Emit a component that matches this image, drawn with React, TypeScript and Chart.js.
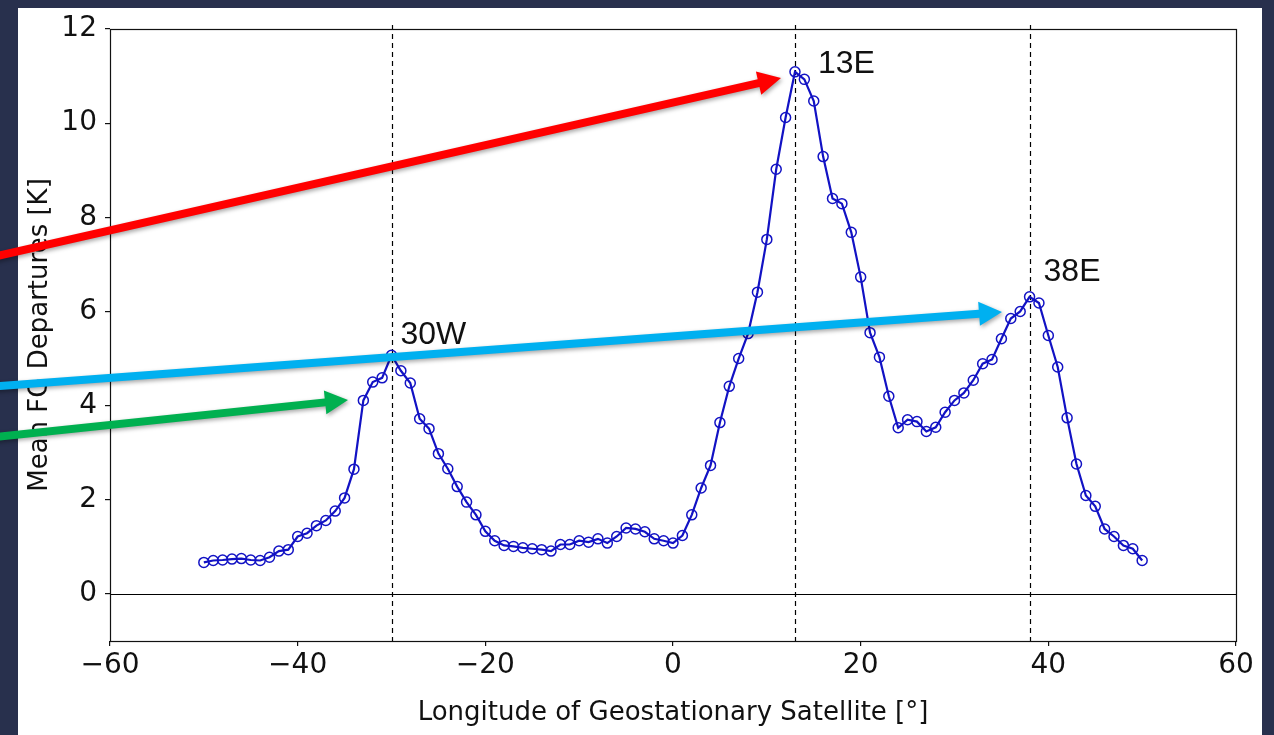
import React, { useEffect, useRef } from 'react';
import { Chart, registerables } from 'chart.js';

Chart.register(...registerables);

// ---- data ----
const LONGITUDES = [
  -50, -49, -48, -47, -46, -45, -44, -43, -42, -41,
  -40, -39, -38, -37, -36, -35, -34, -33, -32, -31,
  -30, -29, -28, -27, -26, -25, -24, -23, -22, -21,
  -20, -19, -18, -17, -16, -15, -14, -13, -12, -11,
  -10, -9, -8, -7, -6, -5, -4, -3, -2, -1,
  0, 1, 2, 3, 4, 5, 6, 7, 8, 9,
  10, 11, 12, 13, 14, 15, 16, 17, 18, 19,
  20, 21, 22, 23, 24, 25, 26, 27, 28, 29,
  30, 31, 32, 33, 34, 35, 36, 37, 38, 39,
  40, 41, 42, 43, 44, 45, 46, 47, 48, 49,
  50,
];

const FG_DEPARTURES = [
  0.67, 0.71, 0.72, 0.74, 0.75, 0.72, 0.71, 0.78, 0.91, 0.94,
  1.22, 1.29, 1.45, 1.56, 1.76, 2.04, 2.65, 4.11, 4.50, 4.59,
  5.07, 4.74, 4.48, 3.72, 3.51, 2.98, 2.66, 2.28, 1.95, 1.68,
  1.33, 1.13, 1.03, 1.01, 0.98, 0.96, 0.94, 0.91, 1.05, 1.05,
  1.13, 1.10, 1.17, 1.08, 1.22, 1.40, 1.38, 1.32, 1.17, 1.13,
  1.08, 1.24, 1.68, 2.25, 2.73, 3.64, 4.41, 5.00, 5.53, 6.41,
  7.53, 9.02, 10.12, 11.09, 10.93, 10.47, 9.29, 8.40, 8.29, 7.68,
  6.73, 5.55, 5.03, 4.20, 3.53, 3.70, 3.66, 3.45, 3.54, 3.86,
  4.11, 4.27, 4.54, 4.89, 4.98, 5.42, 5.85, 6.00, 6.31, 6.18,
  5.49, 4.82, 3.74, 2.76, 2.09, 1.86, 1.38, 1.22, 1.03, 0.96,
  0.71,
];

const X_TICKS = [-60, -40, -20, 0, 20, 40, 60];
const Y_TICKS = [0, 2, 4, 6, 8, 10, 12];

const PEAK_LONGITUDES = [-30, 13, 38];
const PEAK_LABELS = ['30W', '13E', '38E'];
const PEAK_VALUES = [5.07, 11.09, 6.31];

const X_TITLE = 'Longitude of Geostationary Satellite [°]';
const Y_TITLE = 'Mean FG Departures [K]';

// ---- styles ----
const NAVY = '#28304d';
const LINE_COLOR = '#1212c4';
// pixel offsets of peak labels from their peak points
const LABEL_OFFSETS = [
  { dx: 9, dy: -20 },
  { dx: 23, dy: -8 },
  { dx: 14, dy: -25 },
];
// overlay arrows (pixel coordinates on the figure)
const ARROWS = [
  { color: '#ff0000', x0: -20, y0: 260, x1: 781, y1: 78 },
  { color: '#00b0f0', x0: -20, y0: 387.5, x1: 1002, y1: 312 },
  { color: '#00b050', x0: -20, y0: 438.5, x1: 348, y1: 400 },
];

const fmt = (v: number) => (v < 0 ? '\u2212' + Math.abs(v) : String(v));

export default function App() {
  const ref = useRef<HTMLCanvasElement>(null);

  useEffect(() => {
    const canvas = ref.current;
    if (!canvas) return;

    const overlay = {
      id: 'overlay',
      beforeDraw(chart: any) {
        const ctx = chart.ctx;
        ctx.save();
        ctx.fillStyle = NAVY;
        ctx.fillRect(0, 0, chart.width, chart.height);
        ctx.fillStyle = '#ffffff';
        ctx.fillRect(18, 8, 1262 - 18, chart.height - 8);
        ctx.restore();
      },
      beforeDatasetsDraw(chart: any) {
        const ctx = chart.ctx;
        const { left, right, top, bottom } = chart.chartArea;
        const xs = chart.scales.x;
        const ys = chart.scales.y;
        ctx.save();
        // zero line
        const y0 = Math.round(ys.getPixelForValue(0)) + 0.5;
        ctx.strokeStyle = '#000';
        ctx.lineWidth = 1.2;
        ctx.beginPath();
        ctx.moveTo(left, y0);
        ctx.lineTo(right, y0);
        ctx.stroke();
        // dashed verticals
        ctx.setLineDash([5, 4]);
        ctx.lineWidth = 1.2;
        PEAK_LONGITUDES.forEach((lon) => {
          const x = Math.round(xs.getPixelForValue(lon)) + 0.5;
          ctx.beginPath();
          ctx.moveTo(x, top - 4);
          ctx.lineTo(x, bottom + 4);
          ctx.stroke();
        });
        ctx.restore();
      },
      afterDatasetsDraw(chart: any) {
        const ctx = chart.ctx;
        const { left, right, top, bottom } = chart.chartArea;
        ctx.save();
        ctx.strokeStyle = '#111';
        ctx.lineWidth = 1.2;
        ctx.strokeRect(Math.round(left) + 0.5, Math.round(top) + 0.5, Math.round(right - left), Math.round(bottom - top));
        ctx.restore();
      },
      afterDraw(chart: any) {
        const ctx = chart.ctx;
        const xs = chart.scales.x;
        const ys = chart.scales.y;
        ctx.save();
        // peak labels
        ctx.fillStyle = '#111';
        ctx.font = '32px "Liberation Sans", Arial, sans-serif';
        ctx.textAlign = 'left';
        ctx.textBaseline = 'middle';
        PEAK_LABELS.forEach((lab, i) => {
          const px = xs.getPixelForValue(PEAK_LONGITUDES[i]) + LABEL_OFFSETS[i].dx;
          const py = ys.getPixelForValue(PEAK_VALUES[i]) + LABEL_OFFSETS[i].dy;
          ctx.fillText(lab, px, py);
        });
        // arrows
        ARROWS.forEach((a) => {
          const dx = a.x1 - a.x0;
          const dy = a.y1 - a.y0;
          const len = Math.hypot(dx, dy);
          const ux = dx / len;
          const uy = dy / len;
          const nx = -uy;
          const ny = ux;
          const headLen = 23;
          const headHalf = 12;
          const shaftHalf = 4;
          const bx = a.x1 - ux * headLen;
          const by = a.y1 - uy * headLen;
          ctx.save();
          ctx.shadowColor = 'rgba(0,0,0,0.35)';
          ctx.shadowBlur = 4;
          ctx.shadowOffsetX = 1.5;
          ctx.shadowOffsetY = 2;
          ctx.fillStyle = a.color;
          ctx.beginPath();
          ctx.moveTo(a.x0 + nx * shaftHalf, a.y0 + ny * shaftHalf);
          ctx.lineTo(bx + nx * shaftHalf, by + ny * shaftHalf);
          ctx.lineTo(bx + nx * headHalf, by + ny * headHalf);
          ctx.lineTo(a.x1, a.y1);
          ctx.lineTo(bx - nx * headHalf, by - ny * headHalf);
          ctx.lineTo(bx - nx * shaftHalf, by - ny * shaftHalf);
          ctx.lineTo(a.x0 - nx * shaftHalf, a.y0 - ny * shaftHalf);
          ctx.closePath();
          ctx.fill();
          ctx.restore();
        });
        ctx.restore();
      },
    };

    const chart = new Chart(canvas, {
      type: 'line',
      data: {
        datasets: [
          {
            data: LONGITUDES.map((x, i) => ({ x, y: FG_DEPARTURES[i] })),
            borderColor: LINE_COLOR,
            borderWidth: 2.2,
            pointRadius: 5,
            pointBorderWidth: 1.5,
            pointBackgroundColor: 'rgba(0,0,0,0)',
            pointBorderColor: LINE_COLOR,
            pointStyle: 'circle',
            tension: 0,
            fill: false,
          },
        ],
      },
      options: {
        responsive: false,
        animation: false,
        devicePixelRatio: 1,
        layout: { padding: { left: 0, right: 38, top: 29, bottom: 0 } },
        plugins: {
          legend: { display: false },
          tooltip: { enabled: false },
        },
        scales: {
          x: {
            type: 'linear',
            min: -60,
            max: 60,
            afterBuildTicks: (s: any) => {
              s.ticks = X_TICKS.map((v) => ({ value: v }));
            },
            afterFit: (s: any) => {
              s.height = 94;
            },
            grid: { drawOnChartArea: false, drawTicks: true, tickLength: 5, color: '#111', lineWidth: 1.2 },
            border: { display: false },
            ticks: {
              font: { family: '"DejaVu Sans"', size: 28 },
              color: '#111',
              padding: 3,
              maxRotation: 0,
              autoSkip: false,
              callback: (v: any) => fmt(Number(v)),
            },
            title: {
              display: true,
              text: X_TITLE,
              font: { family: '"DejaVu Sans"', size: 26 },
              color: '#111',
              padding: { top: 0, bottom: 6 },
            },
          },
          y: {
            type: 'linear',
            min: -1,
            max: 12,
            afterBuildTicks: (s: any) => {
              s.ticks = Y_TICKS.map((v) => ({ value: v }));
            },
            afterFit: (s: any) => {
              s.width = 110;
            },
            grid: { drawOnChartArea: false, drawTicks: true, tickLength: 5, color: '#111', lineWidth: 1.2 },
            border: { display: false },
            ticks: {
              font: { family: '"DejaVu Sans"', size: 28 },
              color: '#111',
              padding: 8,
              autoSkip: false,
              callback: (v: any) => fmt(Number(v)),
            },
            title: {
              display: true,
              text: Y_TITLE,
              font: { family: '"DejaVu Sans"', size: 26 },
              color: '#111',
              padding: { top: 25, bottom: 0 },
            },
          },
        },
      },
      plugins: [overlay],
    } as any);

    return () => chart.destroy();
  }, []);

  return (
    <div style={{ position: 'fixed', left: 0, top: 0, width: 1274, height: 735, background: NAVY }}>
      <canvas ref={ref} width={1274} height={735} style={{ display: 'block', width: 1274, height: 735 }} />
    </div>
  );
}
